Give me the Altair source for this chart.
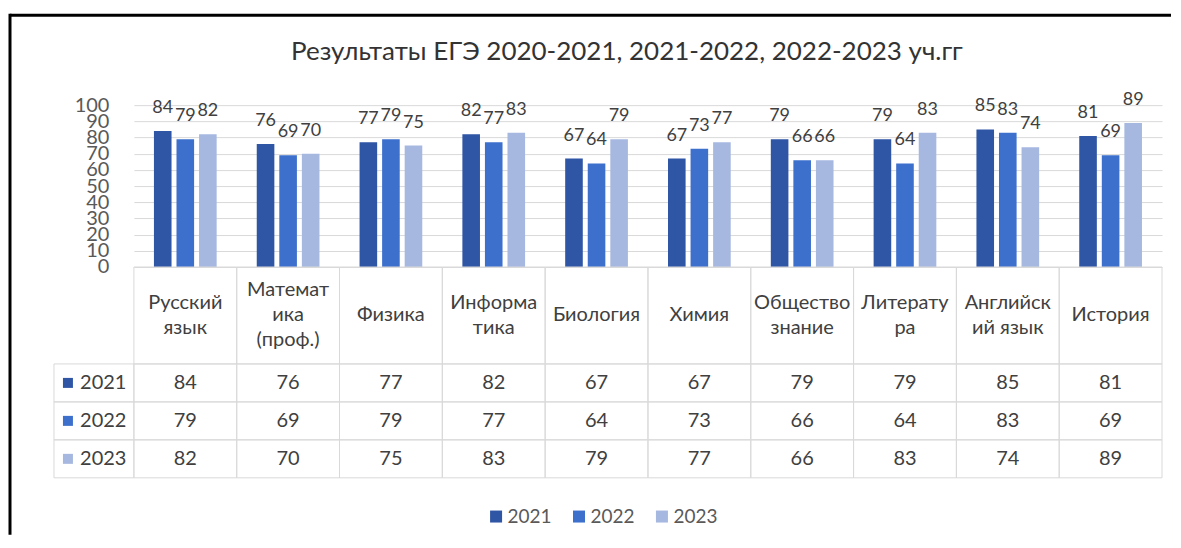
import altair as alt
import pandas as pd

subjects = ["Русский язык", "Математика (проф.)", "Физика", "Информатика", "Биология",
            "Химия", "Обществознание", "Литература", "Английский язык", "История"]
header_labels = ["Русский\nязык", "Математ\nика\n(проф.)", "Физика", "Информа\nтика", "Биология",
                 "Химия", "Общество\nзнание", "Литерату\nра", "Английск\nий язык", "История"]
years = ["2021", "2022", "2023"]
scores_2021 = [84, 76, 77, 82, 67, 67, 79, 79, 85, 81]
scores_2022 = [79, 69, 79, 77, 64, 73, 66, 64, 83, 69]
scores_2023 = [82, 70, 75, 83, 79, 77, 66, 83, 74, 89]
y_ticks = list(range(0, 101, 10))
colors = ["#2F55A5", "#3D6FCC", "#A6B7E0"]
title_text = "Результаты ЕГЭ 2020-2021, 2021-2022, 2022-2023 уч.гг"

rows = []
for yr, vals in zip(years, [scores_2021, scores_2022, scores_2023]):
    for s, v in zip(subjects, vals):
        rows.append({"subject": s, "year": yr, "score": v})
df = pd.DataFrame(rows)
hdr = pd.DataFrame({"subject": subjects, "label": header_labels})
yrs = pd.DataFrame({"year": years})
frame_df = pd.DataFrame({"k": [0]})

W = 1029
HDR_H = 97
LINE_H = 25
FONT = "Lato"
TXT = "#404040"
GRID = "#D9D9D9"

color_scale = alt.Scale(domain=years, range=colors)

base = alt.Chart(df).encode(
    x=alt.X("subject:N", sort=subjects, axis=None,
            scale=alt.Scale(paddingInner=0.39, paddingOuter=0.195)),
    xOffset=alt.XOffset("year:N", sort=years,
                        scale=alt.Scale(paddingInner=0.22, paddingOuter=0)),
    y=alt.Y("score:Q", scale=alt.Scale(domain=[0, 100]),
            axis=alt.Axis(values=y_ticks, title=None, ticks=False, domain=False,
                          labelPadding=25, labelFontSize=20, labelColor="#595959",
                          gridColor=GRID, labelOverlap=False, labelFlush=False)),
)
bars = base.mark_bar().encode(
    color=alt.Color("year:N", scale=color_scale,
                    legend=alt.Legend(title=None, orient="none", legendX=353, legendY=402,
                                      direction="horizontal", symbolType="square",
                                      symbolSize=144, symbolStrokeWidth=0,
                                      labelFontSize=19, labelColor="#595959",
                                      columnPadding=17, labelOffset=2))
)
labels = base.mark_text(baseline="bottom", dy=-14, fontSize=18, color=TXT).encode(text="score:Q")

top_border = alt.Chart(frame_df).mark_rule(color="black", strokeWidth=3).encode(
    x=alt.value(-124), x2=alt.value(1038), y=alt.value(-90))
left_border = alt.Chart(frame_df).mark_rule(color="black", strokeWidth=3).encode(
    x=alt.value(-124), y=alt.value(-91.5), y2=alt.value(430))

bar_layer = alt.layer(top_border, left_border, bars, labels).properties(
    width=W, height=162,
    title=alt.TitleParams(title_text, fontSize=26, color="#333333", fontWeight="normal",
                          offset=-53, dx=-21, anchor="middle"))

X_tab = alt.X("subject:N", sort=subjects, axis=None,
              scale=alt.Scale(paddingInner=0, paddingOuter=0))

hdr_cells = alt.Chart(hdr).mark_rect(fill="transparent", stroke=GRID, strokeWidth=1).encode(x=X_tab)
hdr_text = alt.Chart(hdr).transform_calculate(
    n="length(split(datum.label, '\\n'))"
).mark_text(lineBreak="\n", lineHeight=LINE_H, fontSize=20, color=TXT,
            baseline="middle").encode(
    x=X_tab,
    y=alt.Y("n:Q", axis=None,
            scale=alt.Scale(domain=[1, 3], range=[HDR_H / 2, HDR_H / 2 - LINE_H])),
    text="label:N")
header = alt.layer(hdr_cells, hdr_text).properties(width=W, height=HDR_H)

Y_tab = alt.Y("year:N", sort=years,
              axis=alt.Axis(title=None, ticks=False, domain=False, labelPadding=8,
                            labelFontSize=20, labelColor=TXT, grid=False),
              scale=alt.Scale(paddingInner=0, paddingOuter=0))

cells = alt.Chart(df).mark_rect(fill="transparent", stroke=GRID, strokeWidth=1).encode(x=X_tab, y=Y_tab)
row_hdr = alt.Chart(yrs).mark_rect(fill="transparent", stroke=GRID, strokeWidth=1).encode(
    x=alt.value(-80), x2=alt.value(0), y=Y_tab)
squares = alt.Chart(yrs).mark_square(size=100, opacity=1).encode(
    x=alt.value(-66), y=Y_tab, color=alt.Color("year:N", scale=color_scale, legend=None))
vtext = alt.Chart(df).mark_text(fontSize=20, color=TXT).encode(x=X_tab, y=Y_tab, text="score:Q")
values = alt.layer(cells, row_hdr, squares, vtext).properties(width=W, height=114)

chart = alt.vconcat(
    bar_layer, header, values, spacing=0, bounds="flush",
    padding={"left": 0, "top": 3, "right": 0, "bottom": 0}
).resolve_scale(x="independent", y="independent", color="independent").configure(
    font=FONT
).configure_view(stroke="transparent")

chart.save("out.html", embed_options={"renderer": "svg", "actions": False})
